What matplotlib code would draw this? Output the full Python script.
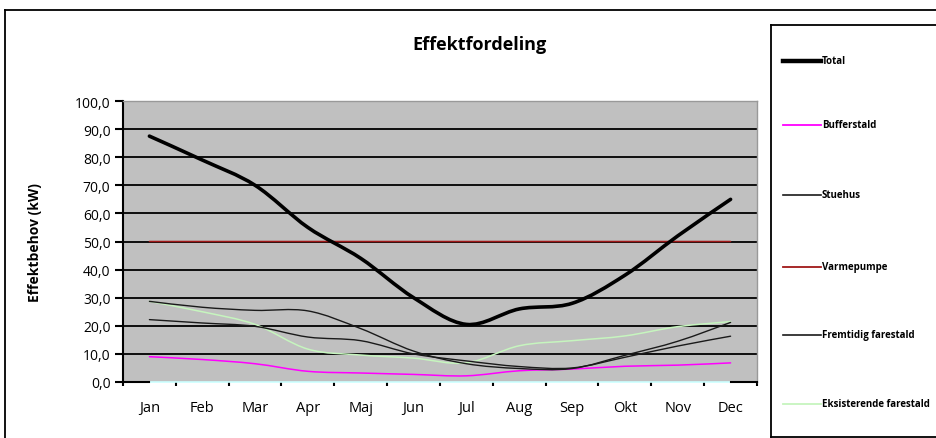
import matplotlib
matplotlib.use("Agg")
import matplotlib.pyplot as plt
from matplotlib.path import Path
from matplotlib.patches import PathPatch
from matplotlib.lines import Line2D
import numpy as np

plt.rcParams['font.family'] = ['Open Sans', 'DejaVu Sans']

months = ["Jan", "Feb", "Mar", "Apr", "Maj", "Jun", "Jul", "Aug", "Sep", "Okt", "Nov", "Dec"]
total = [87.5, 79.0, 70.0, 55.0, 44.0, 30.0, 20.5, 26.0, 28.0, 38.0, 52.0, 65.0]
bufferstald = [9.0, 8.0, 6.5, 3.8, 3.2, 2.7, 2.2, 4.0, 4.6, 5.6, 6.0, 6.8]
stuehus = [28.7, 26.6, 25.5, 25.3, 19.0, 11.0, 6.5, 4.8, 4.8, 9.5, 14.5, 21.2]
varmepumpe = [50.0] * 12
fremtidig = [22.2, 21.0, 19.8, 16.0, 14.7, 10.0, 7.5, 5.5, 5.0, 8.8, 12.8, 16.3]
eksisterende = [28.7, 25.0, 20.5, 11.7, 9.6, 8.5, 6.8, 12.9, 14.7, 16.4, 19.7, 21.5]
nul = [0.0] * 12

series_names = ["Total", "Bufferstald", "Stuehus", "Varmepumpe", "Fremtidig farestald", "Eksisterende farestald"]
series_data = [total, bufferstald, stuehus, varmepumpe, fremtidig, eksisterende]
series_colors = ["#000000", "#ff00ff", "#1a1a1a", "#a01818", "#1a1a1a", "#c6f5be"]
series_widths = [2.6, 1.1, 1.0, 1.1, 1.0, 1.1]
yticks = [0, 10, 20, 30, 40, 50, 60, 70, 80, 90, 100]

W, H = 937, 439
fig = plt.figure(figsize=(W / 100, H / 100), dpi=100)


def fx(px):
    return px / W


def fy(py):
    return 1 - py / H


ax = fig.add_axes([fx(123), fy(383), fx(757) - fx(123), fy(102) - fy(383)])
ax.set_facecolor("#c0c0c0")
ax.set_xlim(-0.5, 11.5)
ax.set_ylim(0, 100)


def smooth_path(x, y):
    pts = np.column_stack([x, y]).astype(float)
    n = len(pts)
    verts = [pts[0]]
    codes = [Path.MOVETO]
    for i in range(n - 1):
        p0 = pts[i - 1] if i > 0 else pts[i]
        p1 = pts[i]
        p2 = pts[i + 1]
        p3 = pts[i + 2] if i + 2 < n else pts[i + 1]
        c1 = p1 + (p2 - p0) / 6.0
        c2 = p2 - (p3 - p1) / 6.0
        verts += [c1, c2, p2]
        codes += [Path.CURVE4] * 3
    return Path(verts, codes)


# gridlines
for t in yticks[1:-1]:
    ax.axhline(t, color="#000000", lw=1.3, zorder=1)

xs = np.arange(len(months))
# zero-line series (cyan)
ax.plot(xs, nul, color="#ccffff", lw=1.2, zorder=2, clip_on=False)

order = [3, 5, 1, 4, 2, 0]
for k in order:
    p = smooth_path(xs, series_data[k])
    patch = PathPatch(p, facecolor="none", edgecolor=series_colors[k], lw=series_widths[k],
                      zorder=3 + (1 if k == 0 else 0), capstyle="round", joinstyle="round")
    ax.add_patch(patch)

# spines
ax.spines["left"].set_color("#000000")
ax.spines["left"].set_linewidth(1.5)
ax.spines["bottom"].set_visible(False)
ax.spines["top"].set_color("#999999")
ax.spines["right"].set_color("#999999")
ax.spines["top"].set_linewidth(1.0)
ax.spines["right"].set_linewidth(1.0)
# x axis line pieces: black at ends
ax.plot([-0.5, 0], [0, 0], color="#000000", lw=1.5, clip_on=False, zorder=5)
ax.plot([11, 11.5], [0, 0], color="#000000", lw=1.5, clip_on=False, zorder=5)

ax.set_yticks(yticks)
ax.set_yticklabels([f"{v:.1f}".replace(".", ",") for v in yticks])
ax.tick_params(axis="y", direction="out", length=6, width=1.5, labelsize=10, pad=3, colors="#000000")
ax.set_xticks(xs)
ax.set_xticklabels(months)
ax.tick_params(axis="x", length=0, labelsize=10.5, pad=13)
ax.set_xticks(np.arange(-0.5, 12, 1), minor=True)
ax.tick_params(axis="x", which="minor", direction="out", length=3, width=1.5, color="#000000")

ax.set_ylabel("Effektbehov (kW)", fontsize=10, fontweight="bold")
ax.yaxis.set_label_coords((42 - 123) / 634, 0.5)
fig.text(fx(480), fy(45), "Effektfordeling", ha="center", va="center", fontsize=13, fontweight="bold")

# outer chart border
fig.add_artist(Line2D([fx(5), 1.0], [fy(11), fy(11)], color="#000000", lw=1.3))
fig.add_artist(Line2D([fx(5), fx(5)], [fy(11), 0.0], color="#000000", lw=1.3))

# legend box
fig.add_artist(Line2D([fx(771), 1.0], [fy(26), fy(26)], color="#000000", lw=1.3))
fig.add_artist(Line2D([fx(771), fx(771)], [fy(26), fy(438)], color="#000000", lw=1.3))
fig.add_artist(Line2D([fx(771), 1.0], [fy(438), fy(438)], color="#000000", lw=1.3))

leg_y = [62, 126, 196, 268, 336, 405]
for k in range(len(series_names)):
    yy = fy(leg_y[k])
    fig.add_artist(Line2D([fx(783), fx(821)], [yy, yy], color=series_colors[k],
                          lw=series_widths[k] + (0.6 if k == 0 else 0.2)))
    fig.text(fx(822), yy, series_names[k], ha="left", va="center", fontsize=7, fontweight="bold")

fig.savefig("out.png", dpi=100)
